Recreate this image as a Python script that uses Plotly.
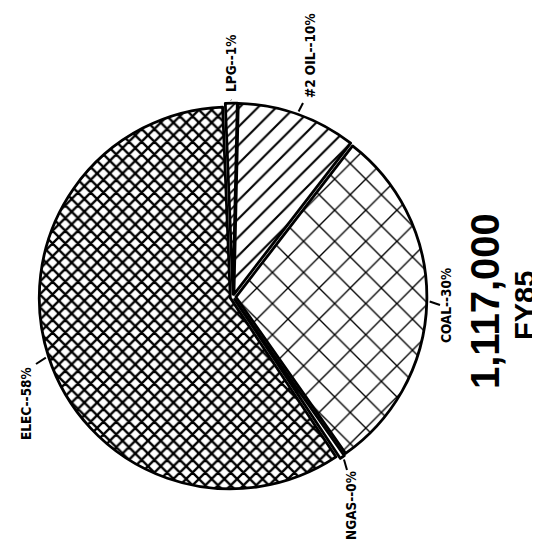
import math
import plotly.graph_objects as go

# ---- data ----
categories = ["LPG", "#2 OIL", "COAL", "NGAS", "ELEC"]
shares = [1.0, 10.1, 29.8, 0.4, 58.7]
label_texts = ["LPG--1%", "#2 OIL--10%", "COAL--30%", "NGAS--0%", "ELEC--58%"]
total_text = "1,117,000"
year_text = "FY85"

# ---- layout / style ----
W, H = 540, 542
CX, CY = 225, 289          # pie centre (px)
R = 191                    # pie radius (px)
PULL = 0.015
START = -2.3               # degrees, clockwise from 12 o'clock

pattern_shape = ["/", "/", "x", "", "x"]
pattern_size = [6, 13, 22, 8, 9]
pattern_solid = [0.3, 0.16, 0.12, 0.1, 0.45]

# label centres and leader-line outer ends (px)
label_pos = [(223, 56), (302, 48), (438, 298), (343, 498), (18, 396)]
leader_end = [(223, 92), (295, 95), (432, 297), (339, 462), (28, 356)]

box = 2 * R * (1 + PULL)
dom_x = [(CX - box / 2) / W, (CX + box / 2) / W]
dom_y = [1 - (CY + box / 2) / H, 1 - (CY - box / 2) / H]

fig = go.Figure(go.Pie(
    labels=categories,
    values=shares,
    sort=False,
    direction="clockwise",
    rotation=START,
    pull=[PULL] * len(shares),
    textinfo="none",
    hoverinfo="none",
    showlegend=False,
    domain=dict(x=dom_x, y=dom_y),
    marker=dict(
        colors=["white"] * len(shares),
        line=dict(color="black", width=2.8),
        pattern=dict(shape=pattern_shape, size=pattern_size, solidity=pattern_solid,
                     fgcolor="black", bgcolor="white", fgopacity=1, fillmode="overlay"),
    ),
))

def px2paper(x, y):
    return x / W, 1 - y / H

total = sum(shares)
cum = 0.0
shapes = []
annotations = []
for i, v in enumerate(shares):
    mid = START + 360 * (cum + v / 2) / total
    cum += v
    rr = R * (1 + PULL) + R * PULL
    sx = CX + rr * math.sin(math.radians(mid))
    sy = CY - rr * math.cos(math.radians(mid))
    x0, y0 = px2paper(sx, sy)
    x1, y1 = px2paper(*leader_end[i])
    shapes.append(dict(type="line", xref="paper", yref="paper", x0=x0, y0=y0, x1=x1, y1=y1,
                       line=dict(color="black", width=2)))
    lx, ly = px2paper(*label_pos[i])
    annotations.append(dict(
        text=label_texts[i], x=lx, y=ly, xref="paper", yref="paper",
        xanchor="center", yanchor="middle", showarrow=False, textangle=-90,
        font=dict(family="DejaVu Sans Condensed, Liberation Sans Narrow, DejaVu Sans",
                  size=13.5, color="black", weight="bold"),
    ))

tx, ty = px2paper(477, 293)
annotations.append(dict(text=total_text, x=tx, y=ty, xref="paper", yref="paper",
                        xanchor="center", yanchor="middle", showarrow=False, textangle=-90,
                        font=dict(family="Liberation Sans, Arial", size=40, color="black",
                                  weight="bold")))
fx, fy = px2paper(517, 298)
annotations.append(dict(text=year_text, x=fx, y=fy, xref="paper", yref="paper",
                        xanchor="center", yanchor="middle", showarrow=False, textangle=-90,
                        font=dict(family="Liberation Sans, Arial", size=29, color="black",
                                  weight="bold")))

fig.update_layout(
    width=W, height=H, autosize=False,
    margin=dict(l=0, r=0, t=0, b=0),
    paper_bgcolor="white", plot_bgcolor="white",
    shapes=shapes, annotations=annotations,
)

fig.write_html("out.html")
